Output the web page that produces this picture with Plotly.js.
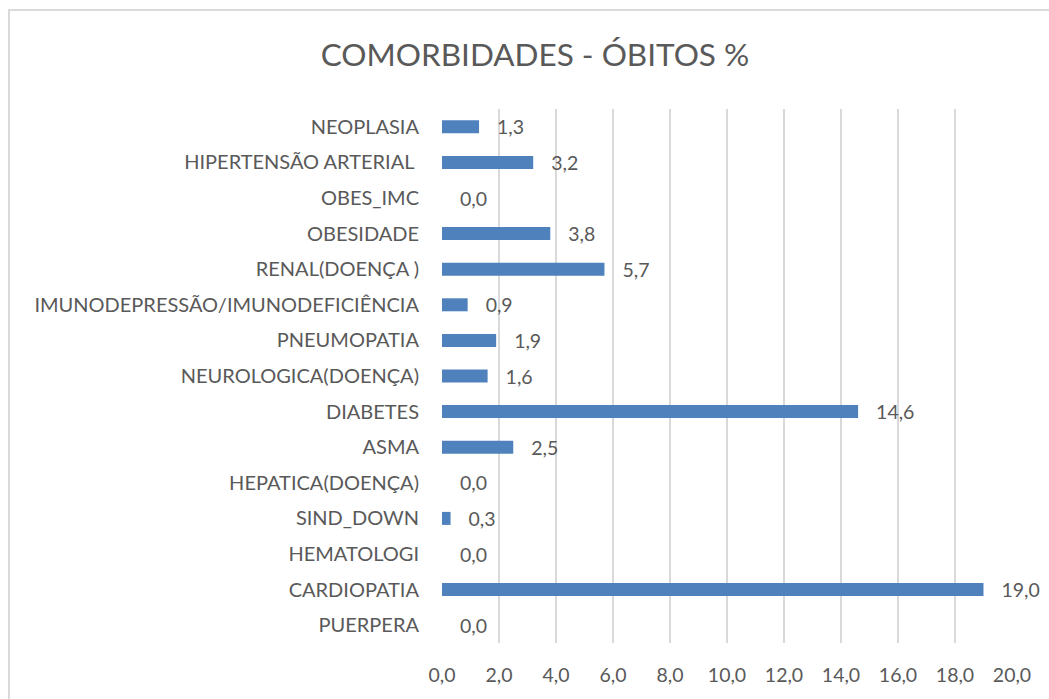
<!DOCTYPE html>
<html>
<head>
<meta charset="utf-8">
<script src="https://cdn.plot.ly/plotly-3.0.1.min.js"></script>
<style>
  html, body { margin: 0; padding: 0; background: #fff; overflow: hidden; }
  #frame { position: absolute; left: 8px; top: 9px; width: 1100px; height: 760px;
           border: 2px solid #d9d9d9; }
  #chart { position: absolute; left: 0; top: 0; width: 1049px; height: 699px; }
</style>
</head>
<body>
<div id="frame"></div>
<div id="chart"></div>
<script>
// comorbidities, bottom to top as plotted
var categories = ['PUERPERA', 'CARDIOPATIA', 'HEMATOLOGI', 'SIND_DOWN', 'HEPATICA(DOENÇA)',
    'ASMA', 'DIABETES', 'NEUROLOGICA(DOENÇA)', 'PNEUMOPATIA',
    'IMUNODEPRESSÃO/IMUNODEFICIÊNCIA', 'RENAL(DOENÇA )', 'OBESIDADE', 'OBES_IMC',
    'HIPERTENSÃO ARTERIAL ', 'NEOPLASIA'];
var obitosPct = [0.0, 19.0, 0.0, 0.3, 0.0, 2.5, 14.6, 1.6, 1.9, 0.9, 5.7, 3.8, 0.0, 3.2, 1.3];
var tickVals = [0, 2, 4, 6, 8, 10, 12, 14, 16, 18, 20];

var grey = '#595959';
var fontFam = 'Lato, "Open Sans", sans-serif';

var trace = {
    type: 'bar',
    orientation: 'h',
    y: categories,
    x: obitosPct,
    marker: { color: 'rgb(79, 129, 189)' },
    // a few no-break spaces push the value labels away from the bar ends
    texttemplate: '\u00a0\u00a0\u00a0%{x:.1f}',
    textposition: 'outside',
    constraintext: 'none',
    cliponaxis: false,
    textfont: { family: fontFam, size: 19.5, color: grey },
    hoverinfo: 'y+x'
};

var layout = {
    width: 1049,
    height: 699,
    separators: ',.',
    paper_bgcolor: 'rgba(0,0,0,0)',
    plot_bgcolor: 'rgba(0,0,0,0)',
    margin: { l: 442, r: 37, t: 109, b: 56 },
    showlegend: false,
    bargap: 0.635,
    title: {
        text: 'COMORBIDADES - ÓBITOS %',
        xref: 'container', x: 0.51, xanchor: 'center',
        yref: 'container', y: 0.922, yanchor: 'middle',
        font: { family: fontFam, size: 31.5, color: grey }
    },
    xaxis: {
        range: [0, 20],
        tickvals: tickVals,
        tickformat: '.1f',
        showgrid: true,
        gridcolor: '#d9d9d9',
        gridwidth: 1.5,
        zeroline: false,
        showline: false,
        ticks: '',
        ticklabelstandoff: 18,
        tickfont: { family: fontFam, size: 19.5, color: grey }
    },
    yaxis: {
        type: 'category',
        automargin: false,
        showgrid: false,
        zeroline: false,
        showline: false,
        ticks: '',
        ticklabelstandoff: 22,
        tickfont: { family: fontFam, size: 20, color: grey }
    }
};

Plotly.newPlot('chart', [trace], layout, { displayModeBar: false, staticPlot: true });
</script>
</body>
</html>
